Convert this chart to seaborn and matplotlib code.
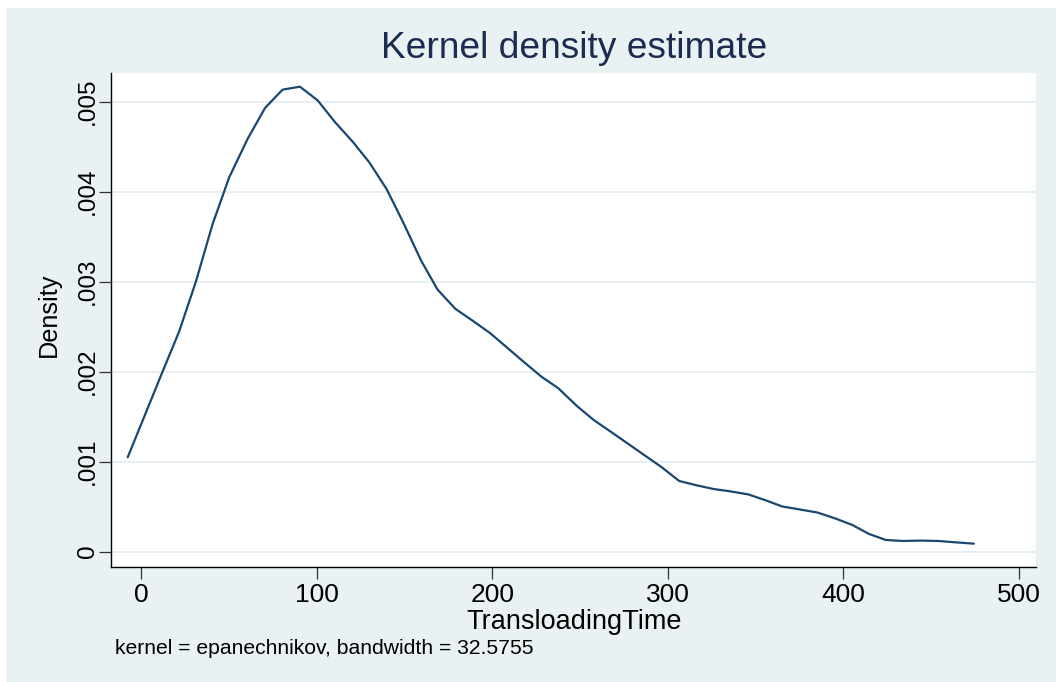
import matplotlib
matplotlib.use("Agg")
import matplotlib.pyplot as plt
import seaborn as sns
import pandas as pd
from matplotlib.patches import Rectangle

# ---- data ----
transloading_time = [-7.75, 2.1, 11.9, 21.6, 31.2, 40.6, 50.1, 60.6, 70.5, 80.5,
                     90.4, 100.5, 110.4, 120.4, 129.9, 139.8, 149.3, 159.4, 168.8, 179.0,
                     188.8, 198.7, 208.8, 218.5, 228.0, 237.7, 248.3, 257.9, 267.6, 277.2,
                     286.8, 296.4, 306.6, 316.6, 326.2, 335.8, 346.0, 356.1, 365.3, 375.3,
                     385.3, 395.1, 405.1, 414.7, 424.3, 433.9, 444.6, 454.2, 463.8, 474.5]
density = [0.001049, 0.00152, 0.00199, 0.002448, 0.003006, 0.003638, 0.00416, 0.004587, 0.00493, 0.005134,
           0.005167, 0.005015, 0.004773, 0.004557, 0.004327, 0.004029, 0.003657, 0.003237, 0.002913, 0.002698,
           0.002567, 0.00243, 0.002262, 0.00210, 0.001945, 0.001815, 0.001618, 0.001462, 0.001332, 0.001202,
           0.001071, 0.000941, 0.000785, 0.000737, 0.000696, 0.000670, 0.000636, 0.000569, 0.000502, 0.000469,
           0.000435, 0.000372, 0.000298, 0.000197, 0.000130, 0.000119, 0.000123, 0.000119, 0.000104, 0.000089]
x_ticks = [0, 100, 200, 300, 400, 500]
x_tick_labels = ["0", "100", "200", "300", "400", "500"]
y_ticks = [0, 0.001, 0.002, 0.003, 0.004, 0.005]
y_tick_labels = ["0", ".001", ".002", ".003", ".004", ".005"]
title = "Kernel density estimate"
x_label = "TransloadingTime"
y_label = "Density"
note = "kernel = epanechnikov, bandwidth = 32.5755"

df = pd.DataFrame({"TransloadingTime": transloading_time, "Density": density})

BG = "#E9F1F2"
GRID = "#E6EEF1"
LINE = "#1A476F"

sns.set_theme(style="white")
plt.rcParams["font.family"] = ["Liberation Sans", "DejaVu Sans"]

fig = plt.figure(figsize=(10.56, 6.82), dpi=100, facecolor="white")
fig.patches.append(Rectangle((6 / 1056, 0), 1, (682 - 8) / 682, transform=fig.transFigure,
                             facecolor=BG, edgecolor="none", zorder=-10))

ax = fig.add_axes([111.3 / 1056, 1 - 566.7 / 682, (1036 - 111.3) / 1056, (566.7 - 73) / 682])
ax.set_facecolor("white")

sns.lineplot(data=df, x="TransloadingTime", y="Density", color=LINE, linewidth=1.6,
             ax=ax, sort=False)

ax.set_xlim(-17.1, 509.9)
ax.set_ylim(-0.000167, 0.005319)

ax.set_xticks(x_ticks)
ax.set_xticklabels(x_tick_labels)
ax.set_yticks(y_ticks)
ax.set_yticklabels(y_tick_labels, rotation=90, va="center")

ax.grid(axis="y", color=GRID, linewidth=1.3)
ax.grid(axis="x", visible=False)
ax.set_axisbelow(True)

for s in ["top", "right"]:
    ax.spines[s].set_visible(False)
for s in ["left", "bottom"]:
    ax.spines[s].set_visible(True)
    ax.spines[s].set_color("black")
    ax.spines[s].set_linewidth(1.0)

ax.tick_params(axis="both", which="major", direction="out", length=8.5, width=0.9,
               color="#333333", labelcolor="black", left=True, bottom=True)
ax.tick_params(axis="x", pad=3.5, labelsize=19)
ax.tick_params(axis="y", pad=0.5, labelsize=17.5)

ax.set_xlabel(x_label, fontsize=19.5, color="black")
ax.xaxis.set_label_coords(0.5, -0.0857)
ax.set_ylabel(y_label, fontsize=18.2, color="black")
ax.yaxis.set_label_coords(-0.0544, 0.51)

fig.text(574 / 1056, 1 - 49 / 682, title, ha="center", va="center", fontsize=26.7, color="#1C2B50")
fig.text(115 / 1056, 1 - 649 / 682, note, ha="left", va="center", fontsize=15.2, color="black")

fig.savefig("out.png", dpi=100, facecolor=fig.get_facecolor())
